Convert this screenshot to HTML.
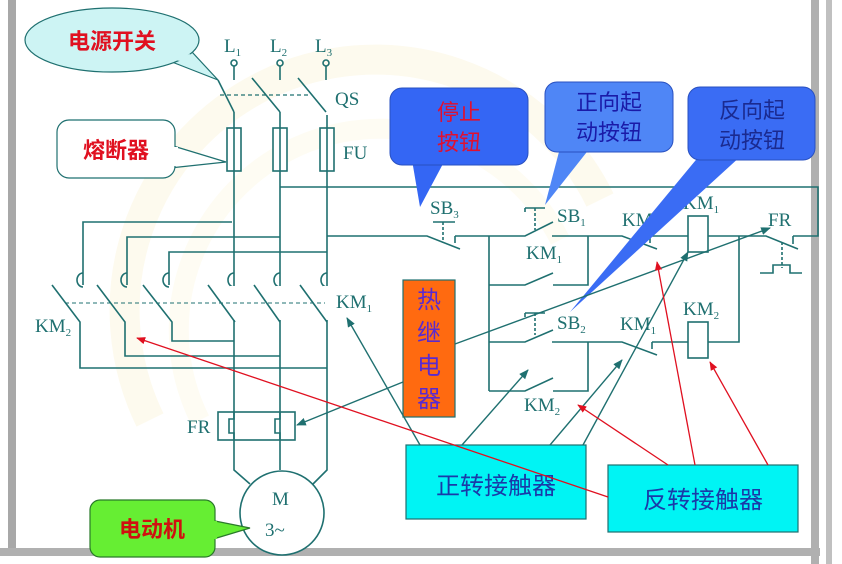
<!DOCTYPE html>
<html><head><meta charset="utf-8"><style>
html,body{margin:0;padding:0;background:#fff;}
svg{display:block;}
text{font-family:"Liberation Serif","Noto Serif CJK SC",serif;}
.c{font-family:"Liberation Sans","Noto Sans CJK SC",sans-serif;}
</style></head><body>
<svg width="842" height="564" viewBox="0 0 842 564" xmlns="http://www.w3.org/2000/svg">
<defs>
<marker id="at" viewBox="0 0 10 10" refX="9" refY="5" markerWidth="7" markerHeight="7" orient="auto"><path d="M0,1 L10,5 L0,9 z" fill="#1f7070"/></marker>
<marker id="ar" viewBox="0 0 10 10" refX="9" refY="5" markerWidth="7" markerHeight="7" orient="auto"><path d="M0,1 L10,5 L0,9 z" fill="#e01020"/></marker>
</defs>
<rect x="8" y="0" width="8" height="556" fill="#a8a8a8"/>
<rect x="0" y="548" width="820" height="8" fill="#b0b0b0"/>
<rect x="811" y="0" width="8" height="564" fill="#b0b0b0"/>
<rect x="826" y="0" width="6" height="564" fill="#c0c0c0"/>
<path d="M150,420 A230,230 0 0 1 600,200" fill="none" stroke="#fdfaee" stroke-width="30"/>
<path d="M200,420 A200,200 0 0 1 560,240" fill="none" stroke="#fefcf3" stroke-width="20"/>

<g stroke="#1f7070" stroke-width="1.6" fill="none">
<circle cx="234" cy="63" r="3"/><circle cx="280" cy="63" r="3"/><circle cx="326" cy="63" r="3"/>
<path d="M234,66V80M280,66V80M326,66V80"/>
<path d="M218,80L234,112M252,78L280,112M298,78L326,112"/>
<path d="M220,95H308" stroke-dasharray="4,3" stroke-width="1.2"/>
<path d="M234,112V470L250,484M280,112V470M327,115V470L313,484"/>
<rect x="227" y="128" width="14" height="43" fill="#fff"/>
<rect x="273" y="128" width="14" height="43" fill="#fff"/>
<rect x="320" y="128" width="14" height="43" fill="#fff"/>
<path d="M234,128V171M280,128V171M327,128V171"/>
<path d="M280,187H818V236H793"/>
<path d="M83,285V222H232M127,285V237H280M169,285V252H327"/>
<path d="M83,273A6,7 0 0 0 83,287M127,273A6,7 0 0 0 127,287M169,273A6,7 0 0 0 169,287M234,273A6,7 0 0 0 234,287M280,273A6,7 0 0 0 280,287M327,273A6,7 0 0 0 327,287"/>
<path d="M52,285L80,322V368H327M97,285L125,322V356H280M143,285L172,322V341H234"/>
<rect x="230" y="286" width="8" height="34" fill="#fff" stroke="none"/>
<rect x="276" y="286" width="8" height="34" fill="#fff" stroke="none"/>
<rect x="323" y="286" width="8" height="34" fill="#fff" stroke="none"/>
<path d="M208,285L235,322M254,285L280,322M300,285L327,322"/>
<path d="M65,303H325" stroke-dasharray="4,3" stroke-width="1.1"/>
<rect x="218" y="412" width="77" height="28" fill="none"/>
<path d="M234,412V419H229V433H234V440M280,412V419H275V433H280V440"/>
<circle cx="282" cy="513" r="42" fill="#fff"/>
<path d="M327,236H427L460,249M455,236V243M433,222H455" />
<path d="M443,222V243" stroke-dasharray="3,2"/>
<path d="M455,236H525L553,222M552,236H622L657,249M650,236H688"/>
<path d="M535,208V230" stroke-dasharray="3,2"/><path d="M525,208H545M525,208V212"/>
<path d="M650,236V243"/>
<rect x="688" y="216" width="20" height="36"/>
<path d="M708,236H766L798,249M793,236V244"/>
<path d="M782,242V268" stroke-dasharray="3,2"/>
<path d="M760,273H773V265H790V273H802"/>
<path d="M489,236V391M489,285H525L553,273M553,285H588V236"/>
<path d="M489,342H525L553,330M552,342H622L657,355M652,342V349M652,342H688"/>
<path d="M535,313V335" stroke-dasharray="3,2"/><path d="M525,313H545M525,313V317"/>
<rect x="688" y="322" width="20" height="36"/>
<path d="M708,342H739V236"/>
<path d="M489,391H525L553,378M553,391H588V342"/>
</g>

<g fill="#1f7070" font-size="19">
<text x="224" y="52">L<tspan font-size="11" dy="4">1</tspan></text>
<text x="270" y="52">L<tspan font-size="11" dy="4">2</tspan></text>
<text x="315" y="52">L<tspan font-size="11" dy="4">3</tspan></text>
<text x="335" y="105">QS</text>
<text x="343" y="159">FU</text>
<text x="35" y="332">KM<tspan font-size="11" dy="4">2</tspan></text>
<text x="336" y="308">KM<tspan font-size="11" dy="4">1</tspan></text>
<text x="187" y="433">FR</text>
<text x="272" y="505">M</text>
<text x="265" y="536">3~</text>
<text x="430" y="214">SB<tspan font-size="11" dy="4">3</tspan></text>
<text x="557" y="222">SB<tspan font-size="11" dy="4">1</tspan></text>
<text x="526" y="259">KM<tspan font-size="11" dy="4">1</tspan></text>
<text x="557" y="329">SB<tspan font-size="11" dy="4">2</tspan></text>
<text x="620" y="330">KM<tspan font-size="11" dy="4">1</tspan></text>
<text x="683" y="315">KM<tspan font-size="11" dy="4">2</tspan></text>
<text x="524" y="411">KM<tspan font-size="11" dy="4">2</tspan></text>
<text x="622" y="226">KM<tspan font-size="11" dy="4">2</tspan></text>
<text x="683" y="209">KM<tspan font-size="11" dy="4">1</tspan></text>
<text x="768" y="226">FR</text>
</g>

<path d="M172,62 L218,80 L192,52 Z" fill="#cdf4f4" stroke="#1f7070" stroke-width="1.2"/>
<ellipse cx="112" cy="40" rx="87" ry="32" fill="#cdf4f4" stroke="#1f7070" stroke-width="1.2"/>
<path d="M174,60 L190,54 L200,64 Z" fill="#cdf4f4"/>
<text class="c" x="112" y="49" font-size="22" fill="#e01020" text-anchor="middle" font-weight="bold">电源开关</text>

<path d="M170,145 L226,162 L170,168" fill="#fff" stroke="#1f7070" stroke-width="1.2"/>
<rect x="57" y="120" width="118" height="58" rx="12" fill="#fff" stroke="#1f7070" stroke-width="1.2"/>
<rect x="172" y="147" width="6" height="19" fill="#fff"/>
<text class="c" x="116" y="158" font-size="22" fill="#e01020" text-anchor="middle" font-weight="bold">熔断器</text>

<path d="M210,520 L250,528 L210,540" fill="#66ee33" stroke="#2a7a2a" stroke-width="1.2"/>
<rect x="90" y="500" width="125" height="57" rx="10" fill="#66ee33" stroke="#2a7a2a" stroke-width="1.2"/>
<rect x="211" y="521" width="6" height="18" fill="#66ee33"/>
<text class="c" x="152" y="537" font-size="22" fill="#d01010" text-anchor="middle" font-weight="bold">电动机</text>

<path d="M412,160 L420,207 L445,160 Z" fill="#3466f4"/>
<rect x="390" y="88" width="138" height="77" rx="12" fill="#3466f4" stroke="#2850c0" stroke-width="1"/>
<text class="c" x="459" y="120" font-size="22" fill="#e01030" text-anchor="middle">停止</text>
<text class="c" x="459" y="150" font-size="22" fill="#e01030" text-anchor="middle">按钮</text>

<path d="M560,148 L545,205 L590,148 Z" fill="#4f86f6"/>
<rect x="545" y="82" width="128" height="70" rx="12" fill="#4f86f6" stroke="#2850c0" stroke-width="1"/>
<text class="c" x="609" y="110" font-size="22" fill="#1a1aa8" text-anchor="middle">正向起</text>
<text class="c" x="609" y="140" font-size="22" fill="#1a1aa8" text-anchor="middle">动按钮</text>

<path d="M700,155 L570,312 L742,155 Z" fill="#3a6cf4"/>
<rect x="688" y="87" width="127" height="73" rx="12" fill="#3a6cf4" stroke="#2850c0" stroke-width="1"/>
<text class="c" x="752" y="118" font-size="22" fill="#1a2a90" text-anchor="middle">反向起</text>
<text class="c" x="752" y="148" font-size="22" fill="#1a2a90" text-anchor="middle">动按钮</text>

<rect x="403" y="280" width="52" height="137" fill="#ff6a10" stroke="#1f7070" stroke-width="1.2"/>
<text class="c" x="429" y="308" font-size="24" fill="#5a2ad0" text-anchor="middle">热</text>
<text class="c" x="429" y="341" font-size="24" fill="#5a2ad0" text-anchor="middle">继</text>
<text class="c" x="429" y="374" font-size="24" fill="#5a2ad0" text-anchor="middle">电</text>
<text class="c" x="429" y="407" font-size="24" fill="#5a2ad0" text-anchor="middle">器</text>

<rect x="406" y="445" width="180" height="74" fill="#00f4f4" stroke="#1f7070" stroke-width="1.2"/>
<text class="c" x="496" y="494" font-size="24" fill="#1a3aa8" text-anchor="middle">正转接触器</text>
<rect x="608" y="465" width="190" height="67" fill="#00f4f4" stroke="#1f7070" stroke-width="1.2"/>
<text class="c" x="703" y="508" font-size="24" fill="#1a3aa8" text-anchor="middle">反转接触器</text>

<g stroke="#1f7070" stroke-width="1.4" fill="none" marker-end="url(#at)">
<path d="M420,445L347,318"/>
<path d="M462,445L528,370"/>
<path d="M550,445L622,360"/>
<path d="M583,445L688,252"/>
<path d="M455,344L770,228"/>
<path d="M403,382L297,425"/>
</g>
<g stroke="#e01020" stroke-width="1.3" fill="none" marker-end="url(#ar)">
<path d="M608,497L137,338"/>
<path d="M668,465L578,405"/>
<path d="M695,465L657,262"/>
<path d="M768,465L710,362"/>
</g>
</svg>
</body></html>
